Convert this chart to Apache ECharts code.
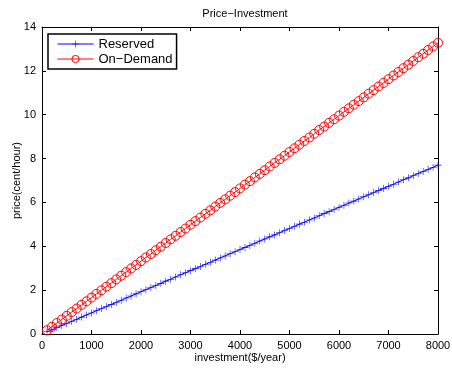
<!DOCTYPE html>
<html><head><meta charset="utf-8">
<script src="https://cdn.jsdelivr.net/npm/echarts@6/dist/echarts.min.js"></script>
<style>html,body{margin:0;padding:0;background:#fff}#c{width:452px;height:369px}</style>
</head><body><div id="c"></div>
<script>
const investment = [100,200,300,400,500,600,700,800,900,1000,1100,1200,1300,1400,1500,1600,1700,1800,1900,2000,2100,2200,2300,2400,2500,2600,2700,2800,2900,3000,3100,3200,3300,3400,3500,3600,3700,3800,3900,4000,4100,4200,4300,4400,4500,4600,4700,4800,4900,5000,5100,5200,5300,5400,5500,5600,5700,5800,5900,6000,6100,6200,6300,6400,6500,6600,6700,6800,6900,7000,7100,7200,7300,7400,7500,7600,7700,7800,7900,8000];
const reserved = [0.10,0.19,0.29,0.39,0.48,0.58,0.67,0.77,0.87,0.96,1.06,1.16,1.25,1.35,1.44,1.54,1.64,1.73,1.83,1.93,2.02,2.12,2.21,2.31,2.41,2.50,2.60,2.70,2.79,2.89,2.98,3.08,3.18,3.27,3.37,3.47,3.56,3.66,3.75,3.85,3.95,4.04,4.14,4.24,4.33,4.43,4.52,4.62,4.72,4.81,4.91,5.01,5.10,5.20,5.29,5.39,5.49,5.58,5.68,5.78,5.87,5.97,6.06,6.16,6.26,6.35,6.45,6.55,6.64,6.74,6.83,6.93,7.03,7.12,7.22,7.32,7.41,7.51,7.60,7.70];
const onDemand = [0.17,0.33,0.50,0.66,0.83,1.00,1.16,1.33,1.49,1.66,1.83,1.99,2.16,2.32,2.49,2.66,2.82,2.99,3.15,3.32,3.49,3.65,3.82,3.98,4.15,4.32,4.48,4.65,4.81,4.98,5.15,5.31,5.48,5.64,5.81,5.98,6.14,6.31,6.47,6.64,6.81,6.97,7.14,7.30,7.47,7.64,7.80,7.97,8.13,8.30,8.47,8.63,8.80,8.96,9.13,9.30,9.46,9.63,9.79,9.96,10.13,10.29,10.46,10.62,10.79,10.96,11.12,11.29,11.45,11.62,11.79,11.95,12.12,12.28,12.45,12.62,12.78,12.95,13.11,13.28];
const xTicks = {min:0, max:8000, interval:1000};
const yTicks = {min:0, max:14, interval:2};
const seriesNames = ['Reserved','On\u2212Demand'];

const font = 'Liberation Sans, Arial, Helvetica, sans-serif';
const plus = 'path://M4.6,0H5.4V4.6H10V5.4H5.4V10H4.6V5.4H0V4.6H4.6Z';
const chart = echarts.init(document.getElementById('c'), null, {renderer:'canvas'});
function xAx(pos, show){
  return {type:'value', position:pos, min:xTicks.min, max:xTicks.max, interval:xTicks.interval,
    axisLine:{show:true, onZero:false, lineStyle:{color:'#000', width:1}},
    axisTick:{show:true, inside:true, length:4, lineStyle:{color:'#000'}},
    axisLabel:{show:show, color:'#000', fontSize:11, fontFamily:font, margin:6,
      formatter:function(v){return String(v);}},
    splitLine:{show:false},
    name: show ? 'investment($/year)' : '', nameLocation:'middle', nameGap:18,
    nameMoveOverlap:false,
    nameTextStyle:{color:'#000', fontSize:11, fontFamily:font}};
}
function yAx(pos, show){
  return {type:'value', position:pos, min:yTicks.min, max:yTicks.max, interval:yTicks.interval,
    axisLine:{show:true, onZero:false, lineStyle:{color:'#000', width:1}},
    axisTick:{show:true, inside:true, length:4, lineStyle:{color:'#000'}},
    axisLabel:{show:show, color:'#000', fontSize:11, fontFamily:font, margin:6,
      formatter:function(v){return String(v);}},
    splitLine:{show:false},
    name: show ? 'price(cent/hour)' : '', nameLocation:'middle', nameGap:20,
    nameMoveOverlap:false,
    nameTextStyle:{color:'#000', fontSize:11, fontFamily:font}};
}
chart.setOption({
  backgroundColor:'#fff',
  animation:false,
  title:{text:'Price\u2212Investment', left:240, top:3, textAlign:'center',
    textStyle:{color:'#000', fontSize:11, fontWeight:'normal', fontFamily:font}},
  grid:{left:42, right:14, top:27, bottom:35, containLabel:false, outerBoundsMode:'none'},
  legend:{orient:'vertical', left:48, top:34, padding:[3,4,3,9], itemGap:1,
    itemWidth:36, itemHeight:9, borderColor:'#000', borderWidth:1.5,
    backgroundColor:'#fff',
    lineStyle:{width:1},
    itemStyle:{borderWidth:1},
    textStyle:{color:'#000', fontSize:13, fontFamily:font, lineHeight:14},
    data:seriesNames},
  xAxis:[xAx('bottom', true), xAx('top', false)],
  yAxis:[yAx('left', true), yAx('right', false)],
  series:[
    {name:seriesNames[0], type:'line', xAxisIndex:0, yAxisIndex:0,
      data:investment.map((x,i)=>[x, reserved[i]]),
      symbol:plus, symbolSize:7, showAllSymbol:true,
      lineStyle:{color:'#0000ff', width:1},
      itemStyle:{color:'#0000ff'}},
    {name:seriesNames[1], type:'line', xAxisIndex:0, yAxisIndex:0,
      data:investment.map((x,i)=>[x, onDemand[i]]),
      symbol:'circle', symbolSize:9, showAllSymbol:true,
      lineStyle:{color:'#ff0000', width:1},
      itemStyle:{color:'rgba(255,255,255,0)', borderColor:'#ff0000', borderWidth:1}}
  ]
});
</script></body></html>
